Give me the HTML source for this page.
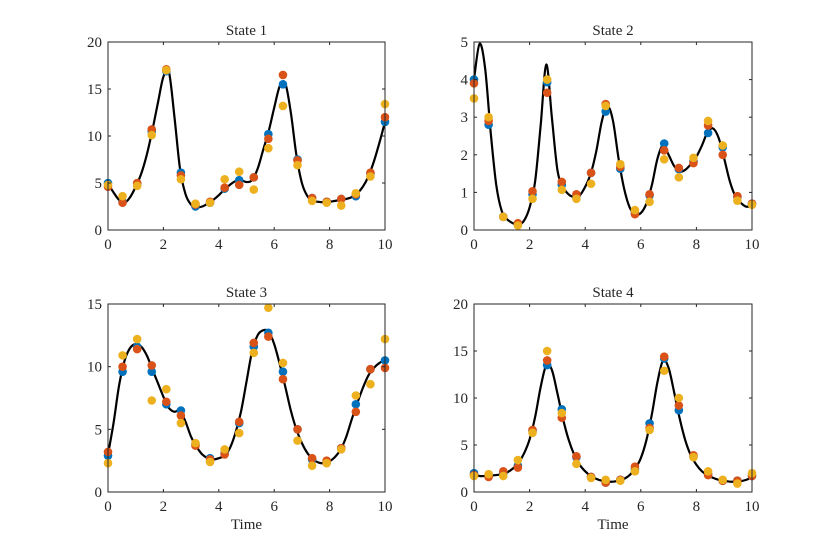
<!DOCTYPE html>
<html><head><meta charset="utf-8"><style>
body{margin:0;background:#fff;width:830px;height:554px;overflow:hidden}
svg text{font-family:"Liberation Serif",serif;fill:#262626}
</style></head><body>
<svg id="fig" width="830" height="554" xmlns="http://www.w3.org/2000/svg"></svg>
<script>
const sampleTimes=[0,0.526,1.053,1.579,2.105,2.632,3.158,3.684,4.211,4.737,5.263,5.789,6.316,6.842,7.368,7.895,8.421,8.947,9.474,10];
const curveStep=0.2;
const s1Blue=[5.0,3.0,4.9,10.5,16.9,6.1,2.5,2.9,4.4,5.3,5.6,10.2,15.5,7.5,3.4,3.0,3.3,3.6,6.0,11.5];
const s1Red=[4.6,2.9,5.0,10.7,17.1,5.8,2.7,3.0,4.5,4.8,5.6,9.7,16.5,7.4,3.4,3.0,3.3,3.8,6.1,12.0];
const s1Yellow=[4.8,3.6,4.7,10.1,17.0,5.4,2.8,2.9,5.4,6.2,4.3,8.7,13.2,6.9,3.1,2.9,2.6,3.9,5.7,13.4];
const s1Curve=[4.9,4.0,3.2,2.9,3.5,4.6,6.0,8.0,10.6,13.5,16.3,16.8,12.0,6.5,3.8,2.7,2.4,2.5,2.8,3.2,3.7,4.3,4.8,5.2,5.3,5.1,5.3,6.5,8.5,10.5,13.0,15.3,15.6,12.5,8.0,5.0,3.6,3.1,3.0,2.95,3.0,3.1,3.2,3.3,3.5,3.9,4.6,5.7,7.3,9.3,11.5];
const s2Blue=[4.0,2.8,0.35,0.15,0.95,3.93,1.2,0.9,1.52,3.15,1.63,0.45,0.92,2.3,1.62,1.82,2.58,2.2,0.88,0.7];
const s2Red=[3.9,2.9,0.35,0.18,1.03,3.65,1.28,0.95,1.52,3.35,1.68,0.42,0.95,2.12,1.65,1.78,2.78,2.0,0.9,0.7];
const s2Yellow=[3.5,3.0,0.35,0.12,0.83,4.0,1.07,0.83,1.23,3.3,1.75,0.53,0.75,1.88,1.4,1.92,2.9,2.25,0.78,0.67];
const s2Curve=[4.0,4.95,4.3,2.6,1.2,0.5,0.28,0.18,0.14,0.25,0.6,1.3,2.8,4.4,3.0,1.6,1.15,0.95,0.88,0.92,1.15,1.5,2.1,2.9,3.3,2.9,1.9,1.1,0.6,0.42,0.45,0.7,1.2,1.9,2.25,2.0,1.7,1.55,1.6,1.75,1.95,2.25,2.6,2.7,2.45,1.9,1.3,0.9,0.72,0.62,0.65];
const s3Blue=[2.9,9.6,11.6,9.6,7.0,6.5,3.8,2.7,3.1,5.5,11.6,12.7,9.6,5.0,2.6,2.4,3.5,7.0,9.8,10.5];
const s3Red=[3.2,10.0,11.4,10.1,7.2,6.1,3.7,2.6,3.0,5.6,11.9,12.4,9.0,5.0,2.7,2.5,3.5,6.4,9.8,9.9];
const s3Yellow=[2.3,10.9,12.2,7.3,8.2,5.5,3.9,2.4,3.4,4.7,11.1,14.7,10.3,4.1,2.1,2.3,3.4,7.7,8.6,12.2];
const s3Curve=[3.0,5.5,8.5,10.5,11.5,11.8,11.6,10.9,9.8,8.7,7.6,6.7,6.4,6.5,5.6,4.4,3.6,3.0,2.7,2.6,2.7,2.9,3.5,4.7,6.4,8.8,11.2,12.5,12.9,12.8,11.8,10.2,8.4,6.5,5.0,3.9,3.1,2.6,2.35,2.3,2.45,2.8,3.4,4.4,5.8,7.1,8.3,9.3,9.9,10.3,10.5];
const s4Blue=[2.0,1.8,2.0,2.8,6.5,13.5,8.8,3.7,1.6,1.0,1.3,2.4,7.3,14.2,8.7,3.8,1.9,1.2,1.2,1.7];
const s4Red=[1.8,1.6,2.2,2.6,6.6,14.0,7.9,3.8,1.6,1.0,1.3,2.7,6.8,14.4,9.2,3.9,1.8,1.2,1.2,1.7];
const s4Yellow=[1.7,1.9,1.7,3.4,6.3,15.0,8.4,3.0,1.5,1.3,1.2,2.2,6.6,12.9,10.0,3.7,2.2,1.3,0.9,2.0];
const s4Curve=[1.9,1.7,1.7,1.75,1.8,1.9,2.1,2.5,3.1,4.1,5.6,8.0,11.2,13.5,13.0,10.5,7.8,5.6,4.0,2.9,2.2,1.7,1.4,1.2,1.1,1.1,1.2,1.4,1.8,2.5,3.6,5.5,8.3,11.7,14.0,13.2,10.6,7.8,5.5,3.9,2.9,2.2,1.8,1.5,1.3,1.2,1.1,1.1,1.15,1.3,1.6];
const s1Ticks=[0,5,10,15,20], s2Ticks=[0,1,2,3,4,5], s3Ticks=[0,5,10,15], s4Ticks=[0,5,10,15,20];
const xTicks=[0,2,4,6,8,10];

const NS="http://www.w3.org/2000/svg";
const fig=document.getElementById('fig');
function mk(tag,attrs,parent){const e=document.createElementNS(NS,tag);for(const k in attrs)e.setAttribute(k,attrs[k]);parent.appendChild(e);return e;}
const panels=[
 {n:1,title:"State 1",L:108,R:385,T:42,B:230,ymax:20,ticks:s1Ticks,b:s1Blue,r:s1Red,y:s1Yellow,c:s1Curve,time:false},
 {n:2,title:"State 2",L:474,R:752,T:42,B:230,ymax:5,ticks:s2Ticks,b:s2Blue,r:s2Red,y:s2Yellow,c:s2Curve,time:false},
 {n:3,title:"State 3",L:108,R:385,T:304,B:492,ymax:15,ticks:s3Ticks,b:s3Blue,r:s3Red,y:s3Yellow,c:s3Curve,time:true},
 {n:4,title:"State 4",L:474,R:752,T:304,B:492,ymax:20,ticks:s4Ticks,b:s4Blue,r:s4Red,y:s4Yellow,c:s4Curve,time:true}
];
panels.forEach(p=>{
 const g=mk('g',{},fig);
 
 
 const xs=v=>p.L+(v/10)*(p.R-p.L);
 const ys=v=>p.B-(v/p.ymax)*(p.B-p.T);
 // curve via Catmull-Rom
 const pts=p.c.map((v,i)=>[xs(i*curveStep),ys(v)]);
 let d='M'+pts[0][0]+','+pts[0][1];
 for(let i=0;i<pts.length-1;i++){
  const p0=pts[Math.max(0,i-1)],p1=pts[i],p2=pts[i+1],p3=pts[Math.min(pts.length-1,i+2)];
  const c1=[p1[0]+(p2[0]-p0[0])/6,p1[1]+(p2[1]-p0[1])/6];
  const c2=[p2[0]-(p3[0]-p1[0])/6,p2[1]-(p3[1]-p1[1])/6];
  d+=`C${c1[0]},${c1[1]} ${c2[0]},${c2[1]} ${p2[0]},${p2[1]}`;
 }
 const clip=mk('clipPath',{id:'clip'+p.n},g);
 mk('rect',{x:p.L,y:p.T,width:p.R-p.L,height:p.B-p.T},clip);
 const line=mk('path',{d:d,fill:'none',stroke:'#000','stroke-width':2.2,'clip-path':'url(#clip'+p.n+')'},g);
 
 
 [['b','#0072BD','blue'],['r','#D95319','red'],['y','#EDB120','yellow']].forEach(([k,col,nm])=>{
  p[k].forEach((v,i)=>{
   const c=mk('circle',{cx:xs(sampleTimes[i]),cy:ys(v),r:4.3,fill:col},g);
   
   
  });
 });
 const box=mk('rect',{x:p.L,y:p.T,width:p.R-p.L,height:p.B-p.T,fill:'none',stroke:'#262626','stroke-width':1},g);
 
 
 xTicks.forEach(t=>{
  const x=xs(t);
  mk('line',{x1:x,x2:x,y1:p.B,y2:p.B-3,stroke:'#262626'},g);
  mk('line',{x1:x,x2:x,y1:p.T,y2:p.T+3,stroke:'#262626'},g);
  const tx=mk('text',{x:x,y:p.B+19,'text-anchor':'middle','font-size':15},g);
  tx.textContent=t;
  
  
 });
 p.ticks.forEach(t=>{
  const y=ys(t);
  mk('line',{x1:p.L,x2:p.L+3,y1:y,y2:y,stroke:'#262626'},g);
  mk('line',{x1:p.R,x2:p.R-3,y1:y,y2:y,stroke:'#262626'},g);
  const tx=mk('text',{x:p.L-6,y:y+5,'text-anchor':'end','font-size':15},g);
  tx.textContent=t;
  
  
 });
 const ti=mk('text',{x:(p.L+p.R)/2,y:p.T-7,'text-anchor':'middle','font-size':15},g);
 ti.textContent=p.title;
 
 
 if(p.time){
  const xl=mk('text',{x:(p.L+p.R)/2,y:p.B+37,'text-anchor':'middle','font-size':15},g);
  xl.textContent='Time';
  
  
 }
});
</script>
</body></html>
